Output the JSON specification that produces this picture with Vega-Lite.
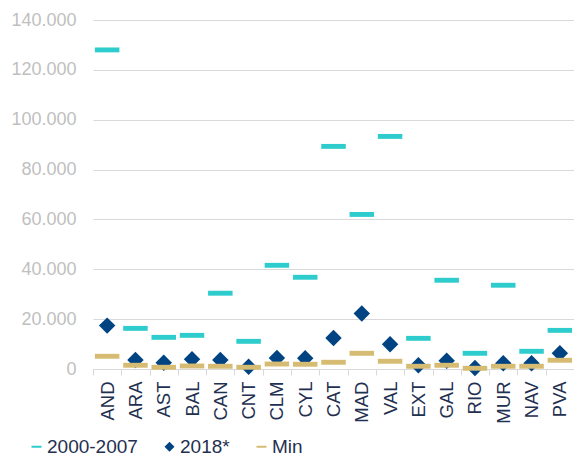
{
  "$schema": "https://vega.github.io/schema/vega-lite/v6.json",
  "width": 481,
  "height": 349,
  "autosize": {"type": "none"},
  "padding": {"left": 93, "top": 20, "right": 0, "bottom": 87},
  "background": "#ffffff",
  "config": {"view": {"stroke": null}},
  "data": {"values": [
    {"r": "AND", "s": "2000-2007", "v": 128000}, {"r": "AND", "s": "2018*", "v": 17400}, {"r": "AND", "s": "Min", "v": 5100},
    {"r": "ARA", "s": "2000-2007", "v": 16300}, {"r": "ARA", "s": "2018*", "v": 3600}, {"r": "ARA", "s": "Min", "v": 1500},
    {"r": "AST", "s": "2000-2007", "v": 12700}, {"r": "AST", "s": "2018*", "v": 2500}, {"r": "AST", "s": "Min", "v": 700},
    {"r": "BAL", "s": "2000-2007", "v": 13500}, {"r": "BAL", "s": "2018*", "v": 3900}, {"r": "BAL", "s": "Min", "v": 1200},
    {"r": "CAN", "s": "2000-2007", "v": 30400}, {"r": "CAN", "s": "2018*", "v": 3600}, {"r": "CAN", "s": "Min", "v": 1100},
    {"r": "CNT", "s": "2000-2007", "v": 11100}, {"r": "CNT", "s": "2018*", "v": 900}, {"r": "CNT", "s": "Min", "v": 700},
    {"r": "CLM", "s": "2000-2007", "v": 41600}, {"r": "CLM", "s": "2018*", "v": 4400}, {"r": "CLM", "s": "Min", "v": 2000},
    {"r": "CYL", "s": "2000-2007", "v": 36800}, {"r": "CYL", "s": "2018*", "v": 4300}, {"r": "CYL", "s": "Min", "v": 1900},
    {"r": "CAT", "s": "2000-2007", "v": 89300}, {"r": "CAT", "s": "2018*", "v": 12400}, {"r": "CAT", "s": "Min", "v": 2700},
    {"r": "MAD", "s": "2000-2007", "v": 62000}, {"r": "MAD", "s": "2018*", "v": 22300}, {"r": "MAD", "s": "Min", "v": 6300},
    {"r": "VAL", "s": "2000-2007", "v": 93300}, {"r": "VAL", "s": "2018*", "v": 9900}, {"r": "VAL", "s": "Min", "v": 3100},
    {"r": "EXT", "s": "2000-2007", "v": 12300}, {"r": "EXT", "s": "2018*", "v": 1500}, {"r": "EXT", "s": "Min", "v": 1100},
    {"r": "GAL", "s": "2000-2007", "v": 35600}, {"r": "GAL", "s": "2018*", "v": 3300}, {"r": "GAL", "s": "Min", "v": 1500},
    {"r": "RIO", "s": "2000-2007", "v": 6300}, {"r": "RIO", "s": "2018*", "v": 400}, {"r": "RIO", "s": "Min", "v": 300},
    {"r": "MUR", "s": "2000-2007", "v": 33600}, {"r": "MUR", "s": "2018*", "v": 2300}, {"r": "MUR", "s": "Min", "v": 1100},
    {"r": "NAV", "s": "2000-2007", "v": 7100}, {"r": "NAV", "s": "2018*", "v": 2300}, {"r": "NAV", "s": "Min", "v": 1100},
    {"r": "PVA", "s": "2000-2007", "v": 15500}, {"r": "PVA", "s": "2018*", "v": 6300}, {"r": "PVA", "s": "Min", "v": 3500}
  ]},
  "encoding": {
    "x": {
      "field": "r", "type": "nominal", "sort": null, "title": null,
      "scale": {"type": "band", "paddingInner": 0, "paddingOuter": 0},
      "axis": {
        "labelAngle": -90, "labelAlign": "right", "labelBaseline": "middle",
        "labelFont": "Liberation Sans", "labelFontSize": 18.5, "labelColor": "#1F3050",
        "labelPadding": 6, "tickBand": "extent", "ticks": true, "tickSize": 6,
        "tickColor": "#d9d9d9", "domainColor": "#d9d9d9", "grid": false
      }
    },
    "y": {
      "field": "v", "type": "quantitative", "title": null,
      "scale": {"domain": [0, 140000], "nice": false},
      "axis": {
        "values": [0, 20000, 40000, 60000, 80000, 100000, 120000, 140000],
        "labelExpr": "replace(format(datum.value, ',d'), ',', '.')",
        "labelFont": "Liberation Sans", "labelFontSize": 18, "labelColor": "#bfbfbf",
        "labelPadding": 17, "ticks": false, "domain": false,
        "grid": true, "gridColor": "#d9d9d9", "gridWidth": 1
      }
    },
    "color": {
      "field": "s", "type": "nominal", "sort": null,
      "scale": {"domain": ["2000-2007", "2018*", "Min"], "range": ["#2ECCCC", "#004382", "#D6BC72"]},
      "legend": {
        "title": null, "orient": "none", "legendX": -66, "legendY": 417, "direction": "horizontal",
        "labelFont": "Liberation Sans", "labelFontSize": 19, "labelColor": "#1F3050",
        "symbolSize": 100, "symbolStrokeWidth": 0, "columnPadding": 22, "labelOffset": 1
      }
    },
    "shape": {
      "field": "s", "type": "nominal", "sort": null,
      "scale": {"domain": ["2000-2007", "2018*", "Min"], "range": ["M-1,-0.2H1V0.2H-1Z", "diamond", "M-1,-0.2H1V0.2H-1Z"]}
    }
  },
  "layer": [
    {"transform": [{"filter": "datum.s == '2000-2007'"}], "mark": {"type": "point", "filled": true, "opacity": 1, "size": 600, "strokeWidth": 0}},
    {"transform": [{"filter": "datum.s == '2018*'"}], "mark": {"type": "point", "filled": true, "opacity": 1, "size": 270, "strokeWidth": 0}},
    {"transform": [{"filter": "datum.s == 'Min'"}], "mark": {"type": "point", "filled": true, "opacity": 1, "size": 600, "strokeWidth": 0}}
  ]
}
